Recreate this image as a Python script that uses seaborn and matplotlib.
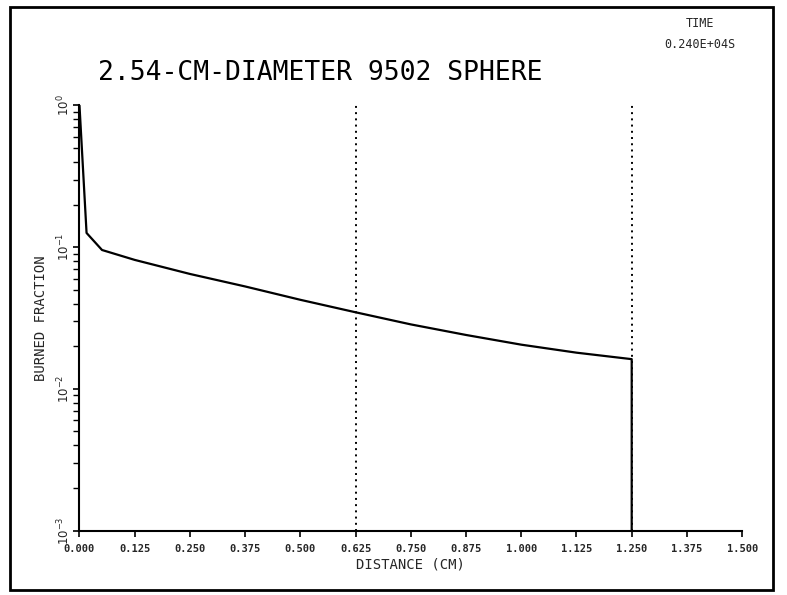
import matplotlib
matplotlib.use("Agg")
import matplotlib.pyplot as plt
from matplotlib.patches import Rectangle
from matplotlib.ticker import LogLocator, NullFormatter, FixedLocator
import numpy as np
import pandas as pd
import seaborn as sns

# Burned-fraction profile across the sphere radius
distance_cm = [0.0, 0.016, 0.051, 0.125, 0.25, 0.375, 0.5, 0.625, 0.75, 0.875, 1.0, 1.125, 1.25, 1.25]
burned_fraction = [1.0, 0.126, 0.0955, 0.0813, 0.0647, 0.0528, 0.0425, 0.0347, 0.0285, 0.0240, 0.0205, 0.0180, 0.0162, 0.001]

x_ticks = [0.0, 0.125, 0.25, 0.375, 0.5, 0.625, 0.75, 0.875, 1.0, 1.125, 1.25, 1.375, 1.5]
x_tick_labels = ["0.000", "0.125", "0.250", "0.375", "0.500", "0.625", "0.750",
                 "0.875", "1.000", "1.125", "1.250", "1.375", "1.500"]
y_ticks = [1e-3, 1e-2, 1e-1, 1e0]
y_tick_labels = [r"$10^{-3}$", r"$10^{-2}$", r"$10^{-1}$", r"$10^{0}$"]
marker_lines = [0.625, 1.25]

title = "2.54-CM-DIAMETER 9502 SPHERE"
time_label = "TIME"
time_value = "0.240E+04S"

sns.set_theme(style="ticks")
plt.rcParams["font.family"] = ["DejaVu Sans Mono", "DejaVu Sans"]
plt.rcParams["mathtext.fontset"] = "dejavusans"

fig = plt.figure(figsize=(7.87, 5.95), dpi=100)
ax = fig.add_axes([0.101, 0.1084, 0.842, 0.7143])

df = pd.DataFrame({"distance": distance_cm, "fraction": burned_fraction})
sns.lineplot(data=df, x="distance", y="fraction", ax=ax, color="black",
             linewidth=1.6, sort=False, estimator=None)

for xv in marker_lines:
    ax.axvline(xv, color="black", linestyle=(0, (1, 2.2)), linewidth=1.4)

ax.set_yscale("log")
ax.set_xlim(0, 1.5)
ax.set_ylim(1e-3, 1.0)

ax.xaxis.set_major_locator(FixedLocator(x_ticks))
ax.set_xticklabels(x_tick_labels, fontsize=7.5, fontweight="bold")
ax.yaxis.set_major_locator(FixedLocator(y_ticks))
ax.set_yticklabels(y_tick_labels, fontsize=8.5, rotation=90, va="center")
ax.yaxis.set_minor_locator(LogLocator(base=10, subs=np.arange(2, 10)))
ax.yaxis.set_minor_formatter(NullFormatter())

ax.tick_params(axis="both", which="major", direction="out", length=4, width=1.2,
               color="black")
ax.tick_params(axis="x", which="major", pad=6)
ax.tick_params(axis="y", which="major", pad=1)
ax.tick_params(axis="y", which="minor", direction="out", length=4, width=1.0, color="black")

ax.set_xlabel("DISTANCE (CM)", fontsize=10, labelpad=2)
ax.set_ylabel("BURNED FRACTION", fontsize=10, labelpad=6)

sns.despine(ax=ax)
for side in ("left", "bottom"):
    ax.spines[side].set_linewidth(1.5)
    ax.spines[side].set_color("black")
ax.set_facecolor("white")

fig.text(0.125, 0.878, title, fontsize=19, ha="left", va="center", color="black")
fig.text(0.889, 0.961, time_label, fontsize=8.5, ha="center", va="center")
fig.text(0.889, 0.926, time_value, fontsize=8.5, ha="center", va="center")

fig.patches.append(Rectangle((0.0127, 0.0084), 0.9695, 0.9796, transform=fig.transFigure,
                             fill=False, edgecolor="black", linewidth=2.0))

fig.savefig("out.png", dpi=100, facecolor="white")
